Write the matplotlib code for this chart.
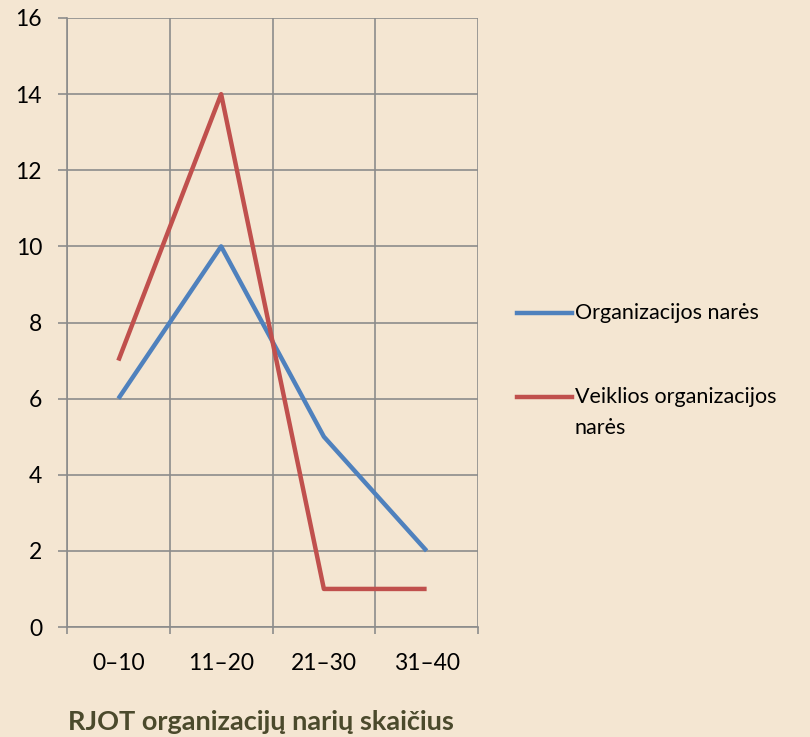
import matplotlib.pyplot as plt
from matplotlib.lines import Line2D

# data
categories = ["0–10", "11–20", "21–30", "31–40"]
members = [6, 10, 5, 2]
active_members = [7, 14, 1, 1]
labels = ["Organizacijos narės", "Veiklios organizacijos\nnarės"]
xlabel = "RJOT organizacijų narių skaičius"
colors = ['#4F81BD', '#C0504D']

plt.rcParams['font.family'] = ['Lato', 'DejaVu Sans']

bg = '#F4E6D2'
grid_c = '#8C8C8C'
fs = 16.5
W, H = 810, 737

fig = plt.figure(figsize=(8.1, 7.37), dpi=100, facecolor=bg)
ax = fig.add_axes([67 / W, 1 - 627 / H, 411 / W, 609 / H])
ax.set_facecolor('none')

x = range(len(categories))
for vals, c in zip([members, active_members], colors):
    ax.plot(x, vals, color=c, lw=3.2, solid_capstyle='butt', zorder=3)

ax.set_xlim(-0.5, len(categories) - 0.5)
ax.set_ylim(0, 16)
ax.set_yticks(range(0, 17, 2))
ax.set_xticks([i - 0.5 for i in range(len(categories) + 1)], minor=False)
ax.set_xticklabels([])
ax.set_xticks(list(x), minor=True)
ax.set_xticklabels(categories, minor=True, fontsize=fs)
ax.tick_params(axis='x', which='minor', length=0, pad=19)
ax.tick_params(axis='x', which='major', length=5, width=1.2, color=grid_c)
ax.tick_params(axis='y', length=6.5, width=1.2, color=grid_c, labelsize=fs, pad=11.5)

ax.grid(True, which='major', color=grid_c, lw=1.2)
for s in ['top', 'right']:
    ax.spines[s].set_visible(False)
for s in ['left', 'bottom']:
    ax.spines[s].set_color(grid_c)
    ax.spines[s].set_linewidth(1.2)

ax.set_xlabel(xlabel, fontsize=19.5, fontweight='bold', color='#4B4A2C')
ax.xaxis.set_label_coords((261 - 67) / 411, (627 - 722) / 609)
ax.xaxis.label.set_verticalalignment('center')

# legend drawn by hand so the handle sits on the first text line
leg_y = [313, 397]
for lab, c, yy in zip(labels, colors, leg_y):
    fy = 1 - yy / H
    fig.add_artist(Line2D([517 / W, 572 / W], [fy, fy], color=c, lw=3.2,
                          transform=fig.transFigure))
    for k, line in enumerate(lab.split("\n")):
        fig.text(575 / W, 1 - (yy + 31 * k) / H, line, fontsize=15.5,
                 va='center', ha='left')

fig.savefig('out.png', dpi=100, facecolor=bg)
